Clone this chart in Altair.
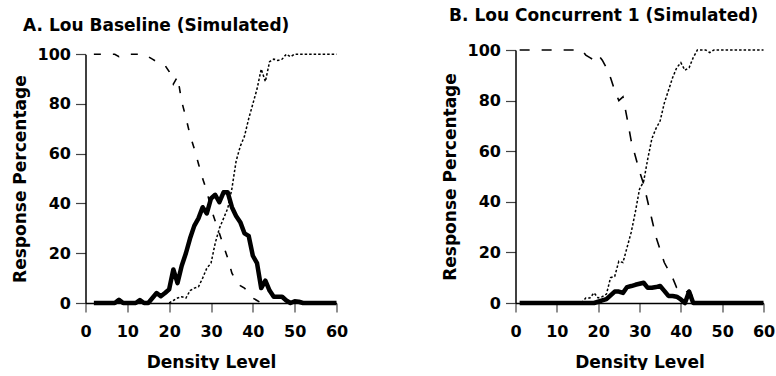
import altair as alt
import pandas as pd

# ---------------- Panel A: Lou Baseline (Simulated) ----------------
density_a = list(range(2, 61))
solid_a = [0, 0, 0, 0, 0, 0, 1.3, 0, 0, 0, 0, 1.2, 0, 0, 2, 4, 2.7, 4, 5.5,
           13.5, 8, 15, 20, 26, 31, 34, 38.5, 36, 42, 43.5, 40.5, 44.5, 44.5,
           38.5, 35, 32.5, 28, 27, 19, 16, 6, 9, 5, 2.5, 2.5, 2.5, 1, 0, 0.7,
           0.5, 0, 0, 0, 0, 0, 0, 0, 0, 0]
dashed_a = [100, 100, 100, 100, 100, 100, 99, 99.5, 100, 100, 100, 100, 100,
            99, 98, 97, 96.5, 95.5, 93, 88, 91, 81, 74.5, 67.5, 62, 56, 50,
            45, 38, 33, 28, 23, 18, 12, 9, 7, 6, 4, 2, 1, 0, 0] + [None] * 17
dotted_a = [None] * 18 + [0, 1, 2, 2.5, 2, 5, 6, 6.5, 10, 14, 16, 24, 30, 34,
                          38, 46, 57, 63, 67, 74, 80, 86, 94, 89, 97, 98, 97.5,
                          98, 100, 99, 100, 100, 100, 100, 100, 100, 100, 100,
                          100, 100, 100]

# ---------------- Panel B: Lou Concurrent 1 (Simulated) ----------------
density_b = list(range(1, 61))
solid_b = [0] * 19 + [0.5, 1, 1.5, 3, 4.5, 4.5, 4, 6.3, 6.7, 7.2, 7.6, 8, 6, 6,
                      6.3, 6.7, 4.8, 2.8, 2.8, 2.5, 1.4, 0, 4.5, 0] + [0] * 17
dashed_b = [100] * 16 + [98, 97, 96, 98, 96, 93, 89, 84, 80, 81.5, 73, 64, 58,
                         52, 47, 40, 33, 26, 21, 16, 13, 10, 6, 4, 4, 5, 2, 1,
                         0] + [None] * 15
dotted_b = [None] * 15 + [0, 2, 2, 4, 2, 2.5, 3.5, 10, 10.5, 16.5, 16, 22, 28,
                          36, 45, 48, 57, 65, 69, 72, 79, 84, 89, 93, 95, 92,
                          93, 97, 100, 100, 100, 99, 100] + [100] * 12

x_ticks = [0, 10, 20, 30, 40, 50, 60]
y_ticks = [0, 20, 40, 60, 80, 100]

FONT = "DejaVu Sans"
VIEW_H = 253


def long_df(density, solid, dashed, dotted):
    rows = []
    for name, vals in (("solid", solid), ("dashed", dashed), ("dotted", dotted)):
        for d, v in zip(density, vals):
            if v is not None:
                rows.append({"density": d, "pct": v, "series": name})
    return pd.DataFrame(rows)


def panel(df, title_text, width, y_top, dash, title_offset, title_dx):
    x = alt.X("density:Q",
              scale=alt.Scale(domain=[0, 60], nice=False, zero=False),
              axis=alt.Axis(values=x_ticks, title="Density Level",
                            tickSize=9, labelPadding=11, titlePadding=15,
                            labelFlush=False, labelOverlap=False))
    y = alt.Y("pct:Q",
              scale=alt.Scale(domain=[0, 100], nice=False,
                              range=[VIEW_H, y_top]),
              axis=alt.Axis(values=y_ticks, title="Response Percentage",
                            tickSize=10, labelPadding=5, titlePadding=8,
                            labelFlush=False, labelOverlap=False))
    base = alt.Chart(df).encode(x=x, y=y, order="density:Q")
    dotted = base.transform_filter(alt.datum.series == "dotted").mark_line(
        color="black", strokeWidth=1.5, strokeDash=[2.5, 2])
    dashed = base.transform_filter(alt.datum.series == "dashed").mark_line(
        color="black", strokeWidth=1.6, strokeDash=dash)
    solid = base.transform_filter(alt.datum.series == "solid").mark_line(
        color="black", strokeWidth=4.5, strokeJoin="round")
    return alt.layer(dotted, dashed, solid).properties(
        width=width, height=VIEW_H,
        title=alt.TitleParams(text=title_text, anchor="start", frame="bounds",
                              dx=title_dx, offset=title_offset,
                              font=FONT, fontSize=17, fontWeight="bold",
                              color="black"))


chart_a = panel(long_df(density_a, solid_a, dashed_a, dotted_a),
                "A. Lou Baseline (Simulated)", 251, 4.2, [7, 12], 11, 12)
chart_b = panel(long_df(density_b, solid_b, dashed_b, dotted_b),
                "B. Lou Concurrent 1 (Simulated)", 248, 0, [10, 12], 17.5, 8)

chart = alt.hconcat(chart_a, chart_b, spacing=92).configure(
    padding={"left": 10.5, "top": 6, "right": 0, "bottom": 0},
    background="white",
).configure_view(stroke=None).configure_axis(
    grid=False,
    domainColor="black", domainWidth=1.5,
    tickColor="#444444", tickWidth=1.2,
    labelFont=FONT, labelFontSize=16, labelFontWeight="bold", labelColor="black",
    titleFont=FONT, titleFontSize=17, titleFontWeight="bold", titleColor="black",
)

chart.save("out.html", embed_options={"renderer": "svg", "actions": False})
